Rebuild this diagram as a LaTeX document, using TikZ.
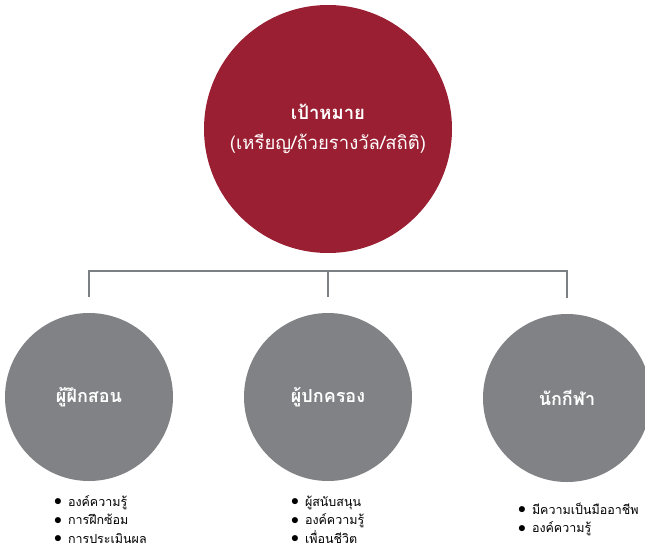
\documentclass[tikz,border=0pt]{standalone}
\usepackage{fontspec}
\newfontfamily\thaifont[Script=Thai]{Loma}
\usepackage{tikz}
\usetikzlibrary{positioning}

\definecolor{goalred}{HTML}{9B1F32}
\definecolor{rolegray}{HTML}{808285}
\definecolor{linegray}{HTML}{7D8083}

\newcommand{\dotmark}{\raisebox{0.5pt}{\scalebox{1.3}{$\bullet$}}}

\tikzset{
  goal/.style={circle, fill=goalred, minimum size=248pt, inner sep=0pt, text=white, align=center, font=\thaifont\fontsize{18.5}{30}\selectfont},
  role/.style={circle, fill=rolegray, minimum size=168pt, inner sep=0pt, text=white, font=\thaifont\bfseries\fontsize{18}{20}\selectfont},
  link/.style={draw=linegray, line width=1.6pt},
  notes/.style={anchor=north west, inner sep=0pt, font=\thaifont\fontsize{12.5}{18.5}\selectfont}
}

\begin{document}
\begin{tikzpicture}[x=1pt,y=-1pt]
	\clip (0,0) rectangle (645,549);

	\node[goal] at (328,129) (goal) {{\bfseries เป้าหมาย}\\(เหรียญ/ถ้วยรางวัล/สถิติ)};

	\node[role] at (89,397)  (coach)   {ผู้ฝึกสอน};
	\node[role] at (328,397) (parent)  {ผู้ปกครอง};
	\node[role] at (567,398) (athlete) {นักกีฬา};

	% tree under the goal
	\coordinate (barL) at (89,271);
	\coordinate (barM) at (328,271);
	\coordinate (barR) at (567,271);
	\draw[link] ([yshift=16pt]coach.north) -- (barL) -- (barR) -- ([yshift=16pt]athlete.north);
	\draw[link] (barM) -- ([yshift=16pt]parent.north);

	\node[notes] at (54,493) (coachnotes) {\begin{tabular}{@{}l@{\hspace{6pt}}l@{}}
		\dotmark & องค์ความรู้\\
		\dotmark & การฝึกซ้อม\\
		\dotmark & การประเมินผล
	\end{tabular}};
	\node[notes] at (291,493) (parentnotes) {\begin{tabular}{@{}l@{\hspace{6pt}}l@{}}
		\dotmark & ผู้สนับสนุน\\
		\dotmark & องค์ความรู้\\
		\dotmark & เพื่อนชีวิต
	\end{tabular}};
	\node[notes] at (518,501) (athletenotes) {\begin{tabular}{@{}l@{\hspace{6pt}}l@{}}
		\dotmark & มีความเป็นมืออาชีพ\\
		\dotmark & องค์ความรู้
	\end{tabular}};
\end{tikzpicture}
\end{document}
